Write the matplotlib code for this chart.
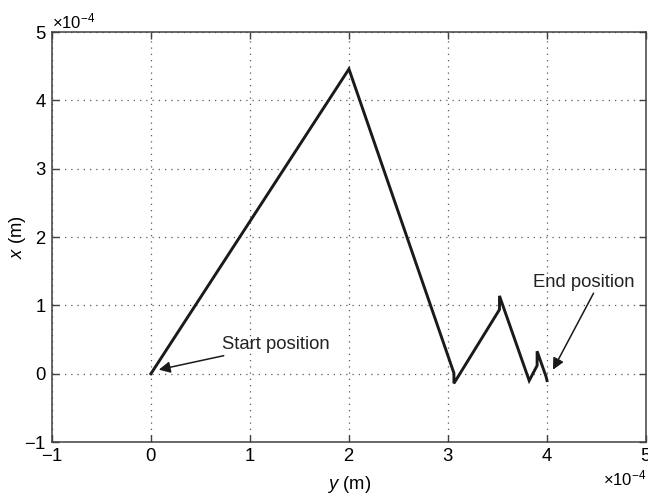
import matplotlib
matplotlib.use("Agg")
import matplotlib.pyplot as plt
import numpy as np

plt.rcParams['font.family'] = ['Liberation Sans', 'DejaVu Sans']
plt.rcParams['mathtext.fontset'] = 'custom'
plt.rcParams['mathtext.rm'] = 'Liberation Sans'
plt.rcParams['mathtext.it'] = 'Liberation Sans:italic'

# Trajectory of the tip (units of 1e-4 m)
traj_y = [0.0, 2.00, 3.06, 3.06, 3.52, 3.52, 3.82, 3.90, 3.90, 3.99, 4.00]
traj_x = [0.0, 4.46, 0.01, -0.14, 0.94, 1.14, -0.10, 0.12, 0.33, -0.04, -0.10]
scale = 1e-4

tick_vals = [-1, 0, 1, 2, 3, 4, 5]

start_label = "Start position"
end_label = "End position"

FS = 13.3

fig = plt.figure(figsize=(6.48, 4.94), dpi=100)
ax = fig.add_axes([0.080, 0.105, 0.917, 0.830])

ax.plot(np.array(traj_y) * scale, np.array(traj_x) * scale,
        color='#1a1a1a', lw=2.1, solid_joinstyle='miter')

ax.set_xlim(-1e-4, 5e-4)
ax.set_ylim(-1e-4, 5e-4)
ax.set_xticks(np.array(tick_vals) * scale)
ax.set_yticks(np.array(tick_vals) * scale)
ax.ticklabel_format(style='sci', scilimits=(0, 0), useMathText=True)
ax.xaxis.get_offset_text().set_fontsize(12)
ax.yaxis.get_offset_text().set_fontsize(12)

ax.grid(True, linestyle=(0, (1, 4)), color='0.35', lw=0.9)
ax.tick_params(direction='in', top=True, right=True, length=5,
               width=1, color='0.25', labelsize=FS, pad=4)
for s in ax.spines.values():
    s.set_color('0.25')
    s.set_linewidth(1.1)

ax.set_xlabel(r'$\it{y}$ (m)', fontsize=FS)
ax.set_ylabel(r'$\it{x}$ (m)', fontsize=FS)
ax.xaxis.set_label_coords(0.5, -0.077)
ax.yaxis.set_label_coords(-0.040, 0.5)

arrow = dict(arrowstyle='-|>', color='#1a1a1a', lw=1.1,
             mutation_scale=17, shrinkA=0, shrinkB=0)
ax.annotate(start_label, xy=(0.08e-4, 0.06e-4), xytext=(0.72e-4, 0.43e-4),
            fontsize=FS, va='center', ha='left', arrowprops=arrow,
            color='#222222')
ax.annotate('', xy=(4.06e-4, 0.06e-4), xytext=(4.47e-4, 1.18e-4),
            arrowprops=arrow)
ax.text(4.37e-4, 1.34e-4, end_label, fontsize=FS, ha='center',
        va='center', color='#222222')

fig.savefig("out.png", dpi=100)
